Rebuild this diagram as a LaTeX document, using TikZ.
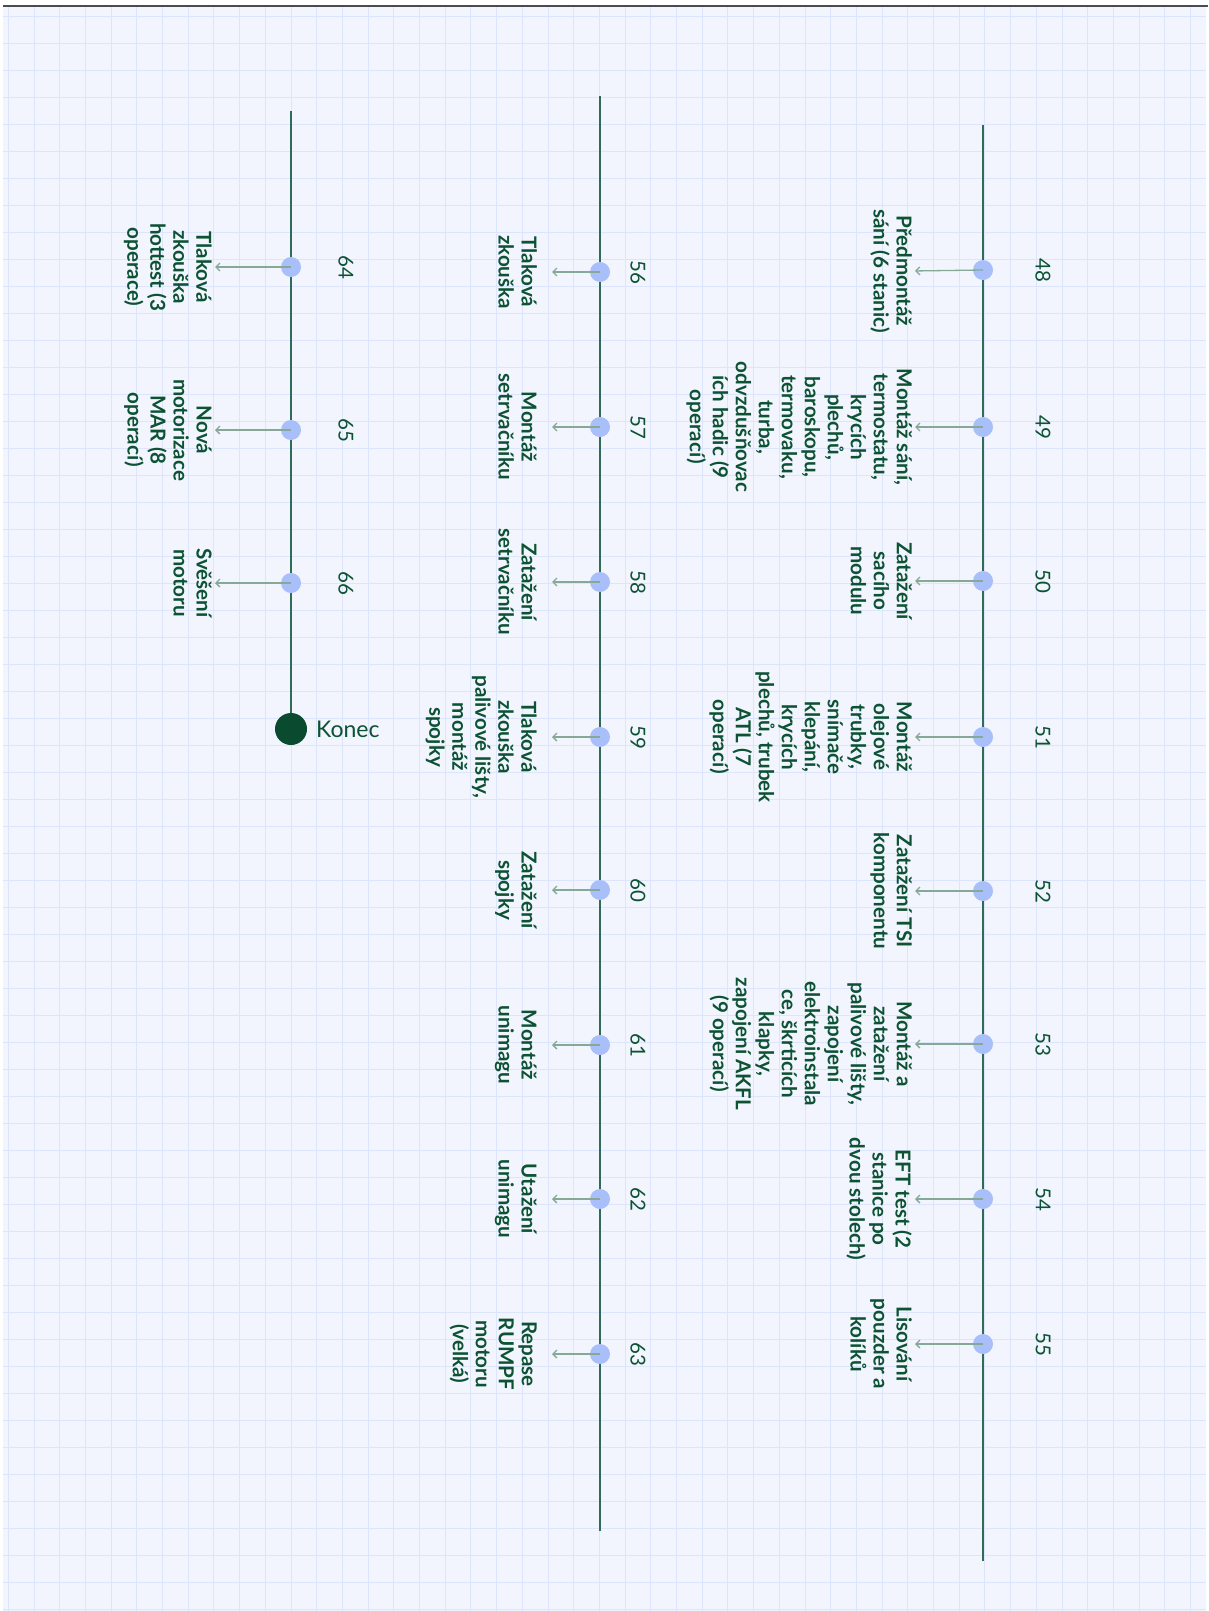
\documentclass[tikz,border=0pt]{standalone}
\usepackage{fontspec}
\setmainfont{Lato}
\usetikzlibrary{arrows.meta}
\definecolor{bgblue}{HTML}{F2F5FE}
\definecolor{gridblue}{HTML}{DCE5FB}
\definecolor{linegreen}{HTML}{2F6B55}
\definecolor{textgreen}{HTML}{0C5233}
\definecolor{dotblue}{HTML}{A9BFFA}
\definecolor{arrgray}{HTML}{86A897}
\definecolor{enddark}{HTML}{0A4A2E}
\tikzset{
  gridline/.style={draw=gridblue, line width=0.9pt},
  tl/.style={draw=linegreen, line width=2pt},
  dot/.style={circle, fill=dotblue, minimum size=20pt, inner sep=0pt},
  enddot/.style={circle, fill=enddark, minimum size=32pt, inner sep=0pt},
  lbl/.style={rotate=-90, anchor=north, align=center, inner sep=0pt, text=textgreen,
    font=\bfseries\fontsize{20.6}{23}\selectfont},
  num/.style={rotate=-90, inner sep=0pt, text=textgreen, font=\fontsize{20.5}{24}\selectfont},
  arr/.style={draw=arrgray, line width=1.3pt, -{Straight Barb[length=4pt,width=8pt]}},
  endlbl/.style={anchor=west, inner sep=0pt, text=textgreen, font=\fontsize{23}{27}\selectfont}
}
\begin{document}
\begin{tikzpicture}[x=1pt,y=-1pt]
\useasboundingbox (0,0) rectangle (1208,1611);
% background and grid
\fill[bgblue] (3,6) rectangle (1206,1611);
\foreach \k in {0,...,46} { \draw[gridline] ({8.3+25.7*\k},6) -- ({8.3+25.7*\k},1611); }
\foreach \k in {0,...,59} { \draw[gridline] (3,{16+27*\k}) -- (1206,{16+27*\k}); }
\draw[draw=black!70, line width=1.5pt] (3,6) -- (1208,6);
% timeline axes
\coordinate (L1top) at (983,125);
\coordinate (L1bot) at (983,1561);
\coordinate (L2top) at (600,96);
\coordinate (L2bot) at (600,1531);
\coordinate (L3top) at (291,111);
\draw[tl] (L1top) -- (L1bot);
\draw[tl] (L2top) -- (L2bot);
% end marker
\node[enddot] (konec) at (291,729) {};
\draw[tl] (L3top) -- (konec);
\node[endlbl] (koneclbl) at (316,729) {Konec};
% ---------- line 1 ----------
\foreach \n/\y in {48/270,49/427,50/581,51/737,52/891,53/1044,54/1199,55/1344} {
  \node[dot] (d\n) at (983,\y) {};
  \node[num] (n\n) at (1043,\y) {\n};
}
\node[lbl] (t48) at (912,271) {Předmontáž\\sání (6 stanic)};
\node[lbl] (t49) at (912,427) {Montáž sání,\\termostatu,\\krycích\\plechů,\\baroskopu,\\termovaku,\\turba,\\odvzdušňovac\\ích hadic (9\\operací)};
\node[lbl] (t50) at (912,581) {Zatažení\\sacího\\modulu};
\node[lbl] (t51) at (912,737) {Montáž\\olejové\\trubky,\\snímače\\klepání,\\krycích\\plechů, trubek\\ATL (7\\operací)};
\node[lbl] (t52) at (912,891) {Zatažení TSI\\komponentu};
\node[lbl] (t53) at (912,1044) {Montáž a\\zatažení\\palivové lišty,\\zapojení\\elektroinstala\\ce, škrticích\\klapky,\\zapojení AKFL\\(9 operací)};
\node[lbl] (t54) at (912,1199) {EFT test (2\\stanice po\\dvou stolech)};
\node[lbl] (t55) at (912,1344) {Lisování\\pouzder a\\kolíků};
\foreach \n in {48,...,55} { \draw[arr, shorten >=3pt] (d\n.center) -- (t\n.north); }
% ---------- line 2 ----------
\foreach \n/\y in {56/272,57/427,58/582,59/737,60/890,61/1045,62/1199,63/1354} {
  \node[dot] (d\n) at (600,\y) {};
  \node[num] (n\n) at (638,\y) {\n};
}
\node[lbl] (t56) at (537,272) {Tlaková\\zkouška};
\node[lbl] (t57) at (537,427) {Montáž\\setrvačníku};
\node[lbl] (t58) at (537,582) {Zatažení\\setrvačníku};
\node[lbl] (t59) at (537,737) {Tlaková\\zkouška\\palivové lišty,\\montáž\\spojky};
\node[lbl] (t60) at (537,890) {Zatažení\\spojky};
\node[lbl] (t61) at (537,1045) {Montáž\\unimagu};
\node[lbl] (t62) at (537,1199) {Utažení\\unimagu};
\node[lbl] (t63) at (537,1354) {Repase\\RUMPF\\motoru\\(velká)};
\foreach \n in {56,...,63} { \draw[arr, shorten >=15pt] (d\n.center) -- (t\n.north); }
% ---------- line 3 ----------
\foreach \n/\y in {64/267,65/430,66/583} {
  \node[dot] (d\n) at (291,\y) {};
  \node[num] (n\n) at (346,\y) {\n};
}
\node[lbl] (t64) at (212,267) {Tlaková\\zkouška\\hottest (3\\operace)};
\node[lbl] (t65) at (212,430) {Nová\\motorizace\\MAR (8\\operací)};
\node[lbl] (t66) at (212,583) {Svěšení\\motoru};
\foreach \n in {64,65,66} { \draw[arr, shorten >=3pt] (d\n.center) -- (t\n.north); }
\end{tikzpicture}
\end{document}
